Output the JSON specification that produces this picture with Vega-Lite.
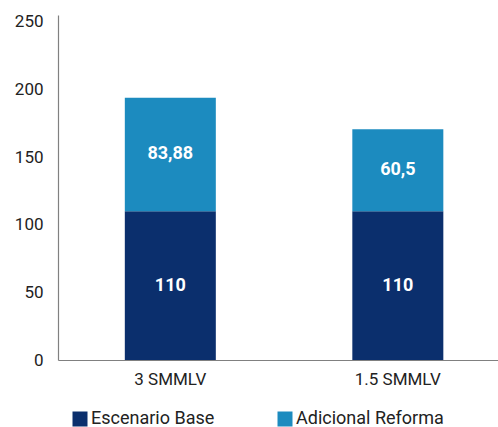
{
  "$schema": "https://vega.github.io/schema/vega-lite/v6.json",
  "width": 440,
  "height": 345,
  "autosize": {"type": "none"},
  "padding": {"left": 58, "top": 15, "right": 0, "bottom": 67},
  "background": "white",
  "config": {
    "view": {"stroke": null},
    "font": "Roboto"
  },
  "data": {
    "values": [
      {"nivel": "3 SMMLV", "serie": "Escenario Base", "valor": 110, "etiqueta": "110", "orden": 1},
      {"nivel": "3 SMMLV", "serie": "Adicional Reforma", "valor": 83.88, "etiqueta": "83,88", "orden": 2},
      {"nivel": "1.5 SMMLV", "serie": "Escenario Base", "valor": 110, "etiqueta": "110", "orden": 1},
      {"nivel": "1.5 SMMLV", "serie": "Adicional Reforma", "valor": 60.5, "etiqueta": "60,5", "orden": 2}
    ]
  },
  "transform": [
    {"stack": "valor", "groupby": ["nivel"], "sort": [{"field": "orden", "order": "ascending"}], "as": ["v0", "v1"]},
    {"calculate": "(datum.v0 + datum.v1) / 2", "as": "vmid"}
  ],
  "encoding": {
    "x": {
      "field": "nivel",
      "type": "nominal",
      "sort": ["3 SMMLV", "1.5 SMMLV"],
      "scale": {"paddingInner": 0.6, "paddingOuter": 0.267, "align": 0.55},
      "axis": {
        "title": null,
        "labelAngle": 0,
        "ticks": false,
        "labelPadding": 11,
        "labelFontSize": 17,
        "labelColor": "#222222",
        "domainColor": "#808080",
        "domainWidth": 1.2
      }
    }
  },
  "layer": [
    {
      "mark": {"type": "bar"},
      "encoding": {
        "y": {
          "field": "v0",
          "type": "quantitative",
          "scale": {"domain": [0, 255], "nice": false},
          "axis": {
            "title": null,
            "values": [0, 50, 100, 150, 200, 250],
            "grid": false,
            "ticks": false,
            "labelPadding": 15,
            "labelFontSize": 17,
            "labelColor": "#222222",
            "domainColor": "#808080",
            "domainWidth": 1.2
          }
        },
        "y2": {"field": "v1"},
        "color": {
          "field": "serie",
          "type": "nominal",
          "scale": {"domain": ["Escenario Base", "Adicional Reforma"], "range": ["#0b2f6d", "#1c8bbf"]},
          "legend": {
            "title": null,
            "orient": "none",
            "direction": "horizontal",
            "legendX": 13,
            "legendY": 395,
            "padding": 0,
            "symbolType": "square",
            "symbolSize": 225,
            "symbolStrokeWidth": 0,
            "symbolOpacity": 1,
            "labelFontSize": 18,
            "labelColor": "#222222",
            "labelOffset": 2,
            "columnPadding": 61
          }
        }
      }
    },
    {
      "mark": {"type": "text", "color": "white", "fontWeight": "bold", "fontSize": 18, "baseline": "middle"},
      "encoding": {
        "y": {"field": "vmid", "type": "quantitative"},
        "text": {"field": "etiqueta", "type": "nominal"}
      }
    }
  ]
}
